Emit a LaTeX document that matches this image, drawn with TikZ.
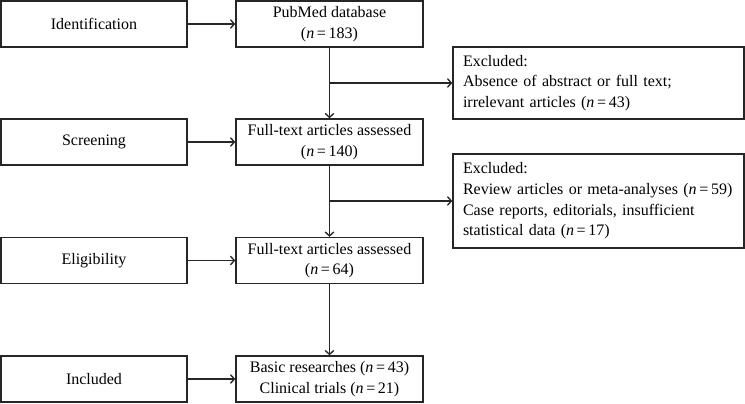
\documentclass[tikz,border=0pt]{standalone}
\usepackage{fontspec}
\setmainfont{Liberation Serif}
\usetikzlibrary{arrows.meta}
\begin{document}
\begin{tikzpicture}[x=0.75pt,y=-0.75pt,
  every node/.style={font=\fontsize{12}{15.5}\selectfont},
  stage/.style={draw=black!85, line width=1pt, minimum width=139.5pt, minimum height=34.5pt, inner sep=0pt, align=center},
  mid/.style={draw=black!85, line width=1pt, minimum width=140.25pt, minimum height=34.5pt, inner sep=0pt, align=center},
  excl/.style={draw=black!85, line width=1pt, minimum width=218.25pt, inner xsep=7.5pt, inner ysep=0pt, text width=203.25pt, align=left},
  conn/.style={draw=black!85, line width=1pt, -{Straight Barb[length=3pt,width=6.5pt]}},
  seg/.style={draw=black!85, line width=1pt}
]
\useasboundingbox (0,0) rectangle (745,403);
% left stages
\node[stage] (id) at (94,24) {Identification};
\node[stage] (scr) at (94,142) {Screening};
\node[stage] (eli) at (94,260.5) {Eligibility};
\node[stage] (inc) at (94,379) {Included};
% middle
\node[mid] (pub) at (329.5,24) {PubMed database\\(\textit{n}\,=\,183)};
\node[mid] (ft1) at (329.5,142) {Full-text articles assessed\\(\textit{n}\,=\,140)};
\node[mid] (ft2) at (329.5,260.5) {Full-text articles assessed\\(\textit{n}\,=\,64)};
\node[mid] (fin) at (329.5,379) {Basic researches (\textit{n}\,=\,43)\\Clinical trials (\textit{n}\,=\,21)};
% excluded
\node[excl, minimum height=54pt] (ex1) at (598.5,83) {Excluded:\\Absence of abstract or full text;\\irrelevant articles (\textit{n}\,=\,43)};
\node[excl, minimum height=70.5pt] (ex2) at (598.5,201) {Excluded:\\Review articles or meta-analyses (\textit{n}\,=\,59)\\Case reports, editorials, insufficient\\statistical data (\textit{n}\,=\,17)};
% connectors
\draw[conn] (id) -- (pub);
\draw[conn] (scr) -- (ft1);
\draw[conn] (eli) -- (ft2);
\draw[conn] (inc) -- (fin);
\draw[conn] (pub) -- (ft1);
\draw[conn] (ft1) -- (ft2);
\draw[conn] (ft2) -- (fin);
\coordinate (b1) at (pub.south |- ex1.west);
\coordinate (b2) at (ft1.south |- ex2.west);
\draw[conn] (b1) -- (ex1);
\draw[conn] (b2) -- (ex2);
\end{tikzpicture}
\end{document}
